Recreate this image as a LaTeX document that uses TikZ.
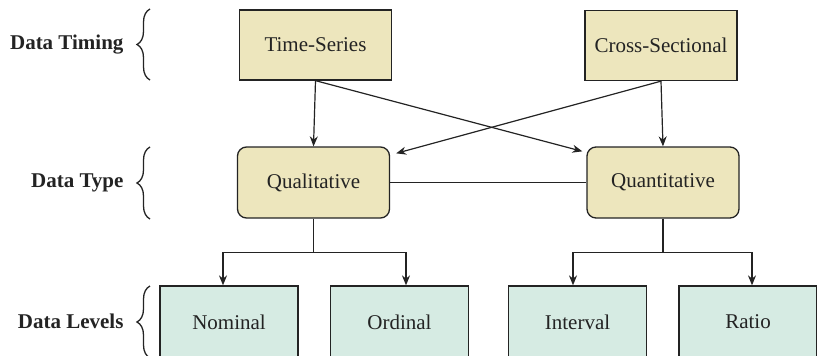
\documentclass[tikz,border=0pt]{standalone}
\usepackage{fontspec}
\setmainfont{Liberation Serif}
\usetikzlibrary{arrows.meta,decorations.pathreplacing}

\definecolor{timefill}{RGB}{237,230,189}
\definecolor{levelfill}{RGB}{214,235,227}
\definecolor{linegray}{RGB}{35,35,35}

\begin{document}
\begin{tikzpicture}[x=1pt,y=1pt,
	every node/.style={font=\fontsize{21}{24}\selectfont, text=linegray},
	timebox/.style={draw=linegray, line width=1.3pt, fill=timefill, minimum width=152pt, minimum height=70pt, inner sep=0pt},
	typebox/.style={timebox, rounded corners=9pt, minimum height=71pt},
	levelbox/.style={draw=linegray, line width=1.3pt, fill=levelfill, minimum width=138pt, minimum height=72pt, inner sep=0pt},
	rowlabel/.style={anchor=east, font=\fontsize{21}{24}\selectfont\bfseries},
	arr/.style={draw=linegray, line width=1.2pt, -{Stealth[length=10pt,width=8pt]}},
	conn/.style={draw=linegray, line width=1.2pt},
	brc/.style={draw=linegray, line width=1.3pt, decorate, decoration={brace, amplitude=13pt}}]
			\useasboundingbox (0,0) rectangle (817,-356);
			% first row
			\node [timebox] (ts) at (315.5,-45) {Time-Series};
			\node [timebox] (cs) at (661,-45.5) {Cross-Sectional};
			% second row
			\node [typebox] (ql) at (313.5,-182.5) {Qualitative};
			\node [typebox] (qn) at (663,-182.5) {Quantitative};
			% third row
			\node [levelbox] (nom) at (229,-322) {Nominal};
			\node [levelbox] (ord) at (399.5,-322) {Ordinal};
			\node [levelbox] (int) at (577.5,-322) {Interval};
			\node [levelbox] (rat) at (748,-322) {Ratio};
			% row labels and braces
			\node [rowlabel] (lbtiming) at (127,-45) {Data Timing};
			\node [rowlabel] (lbtype) at (127,-182.5) {Data Type};
			\node [rowlabel] (lblevels) at (127,-321) {Data Levels};
			\draw [brc] (150,-80) -- (150,-9);
			\draw [brc] (150,-219) -- (150,-147);
			\draw [brc] (150,-358) -- (150,-286);
			% connectors
			\draw [arr] (ts.south) -- (ql.north);
			\draw [arr] (cs.south) -- (qn.north);
			\draw [arr] (ts.south) -- ([xshift=-4pt,yshift=-5pt]qn.north west);
			\draw [arr] (cs.south) -- ([xshift=6pt,yshift=-7pt]ql.north east);
			\draw [conn] (ql.east) -- (qn.west);
			\draw [conn] (ql.south) -- ++(0,-34) coordinate (qlsplit);
			\draw [arr] (qlsplit) -| ([xshift=-6pt]nom.north);
			\draw [arr] (qlsplit) -| ([xshift=6.5pt]ord.north);
			\draw [conn] (qn.south) -- ++(0,-34) coordinate (qnsplit);
			\draw [arr] (qnsplit) -| ([xshift=-4.5pt]int.north);
			\draw [arr] (qnsplit) -| ([xshift=4pt]rat.north);
\end{tikzpicture}
\end{document}
